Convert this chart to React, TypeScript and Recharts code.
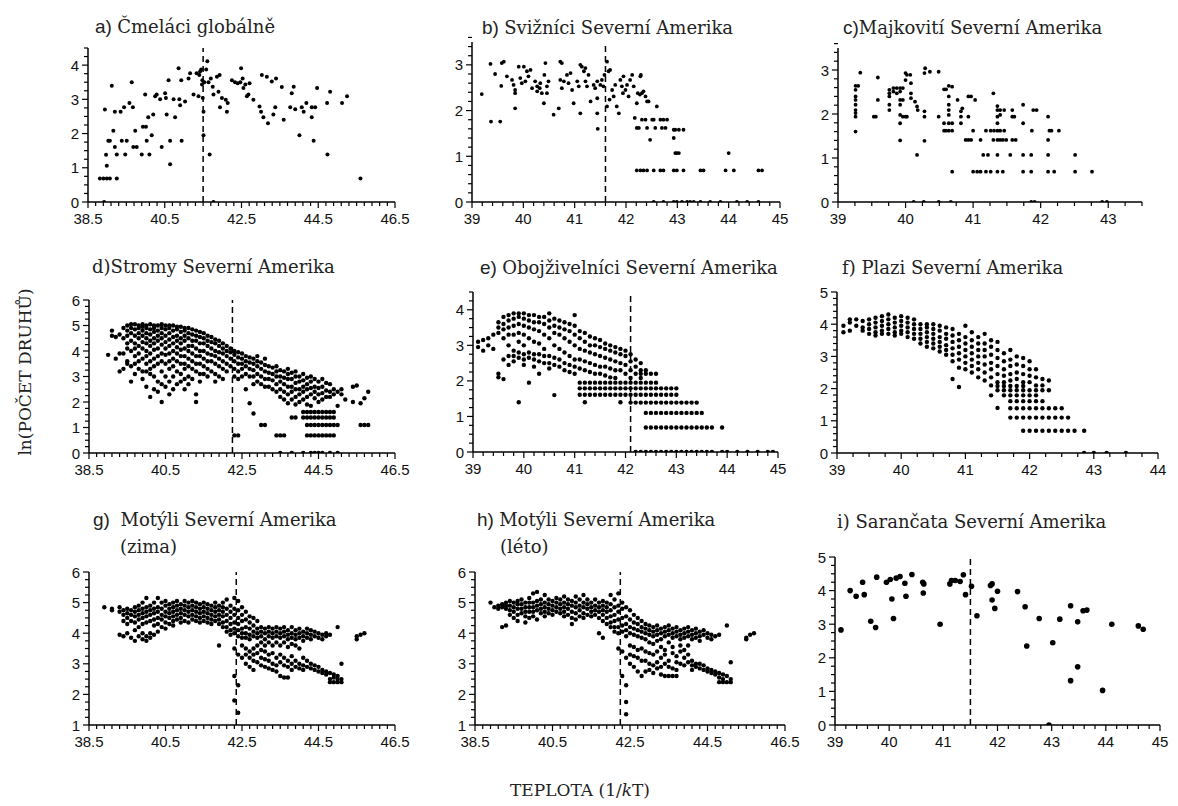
import React from 'react';
import { ScatterChart, Scatter, XAxis, YAxis, ReferenceLine } from 'recharts';

type Pt = [number, number];
type Col = [number, number[]];

// a) bumblebees, global
const bumblebeesGlobal: Pt[] = [
  [38.81, 0.69], [38.9, 0.69], [38.99, 0.69], [39.07, 0.69], [38.94, 2.7], [38.97, 1.38], [38.99, 1.06], [39.03, 1.79],
  [39.07, 1.79], [39.12, 3.4], [39.16, 2.08], [39.2, 2.64], [39.2, 1.61], [39.25, 0.69], [39.25, 1.39], [39.35, 2.64],
  [39.38, 1.79], [39.44, 2.77], [39.47, 1.39], [39.51, 1.79], [39.58, 2.89], [39.64, 3.5], [39.67, 2.77], [39.68, 1.61],
  [39.73, 2.08], [39.77, 1.61], [39.9, 1.39], [39.93, 2.2], [39.99, 3.14], [40.01, 2.2], [40.03, 1.79], [40.07, 2.48],
  [40.1, 1.39], [40.16, 1.95], [40.2, 2.56], [40.25, 3.09], [40.29, 3.14], [40.38, 3.0], [40.42, 1.61], [40.51, 3.18],
  [40.53, 3.04], [40.55, 2.56], [40.6, 3.56], [40.64, 1.79], [40.64, 1.1], [40.73, 3.0], [40.77, 2.48], [40.86, 3.91],
  [40.88, 3.0], [40.9, 2.83], [40.93, 3.56], [40.94, 1.79], [41.03, 2.94], [41.12, 3.61], [41.16, 3.76], [41.25, 3.14],
  [41.33, 3.76], [41.38, 3.09], [41.4, 3.71], [41.42, 3.81], [41.45, 3.87], [41.47, 3.43], [41.48, 3.56], [41.49, 3.04],
  [41.51, 2.64], [41.51, 1.95], [41.53, 3.5], [41.58, 3.87], [41.61, 4.11], [41.64, 3.5], [41.67, 1.39], [41.7, 3.61],
  [41.75, 3.37], [41.77, 3.14], [41.86, 3.66], [41.9, 3.22], [41.93, 3.71], [41.94, 2.77], [41.99, 3.04], [42.09, 2.99],
  [42.12, 2.64], [42.14, 2.89], [42.25, 3.56], [42.33, 3.5], [42.4, 3.47], [42.47, 3.5], [42.49, 3.91], [42.53, 3.61],
  [42.55, 3.33], [42.6, 3.43], [42.64, 3.09], [42.68, 3.14], [42.71, 3.47], [42.81, 2.99], [42.97, 2.79], [43.01, 2.64],
  [43.03, 3.71], [43.07, 2.48], [43.16, 3.66], [43.19, 2.3], [43.29, 3.52], [43.33, 2.56], [43.38, 2.77], [43.4, 3.61],
  [43.55, 3.36], [43.6, 2.4], [43.77, 2.77], [43.81, 3.18], [43.86, 3.37], [43.9, 2.71], [44.01, 1.95], [44.07, 2.77],
  [44.12, 2.64], [44.19, 2.89], [44.33, 2.77], [44.33, 2.48], [44.38, 1.79], [44.42, 2.77], [44.47, 3.33], [44.73, 2.89],
  [44.74, 1.39], [44.81, 3.22], [45.12, 2.89], [45.25, 3.09], [45.6, 0.69], [38.92, 0], [41.77, 0],
];

// b) tiger beetles, North America
const tigerBeetlesNA: Pt[] = [
  [39.19, 2.36], [39.36, 3.02], [39.37, 1.76], [39.45, 2.8], [39.55, 1.76], [39.57, 2.54], [39.58, 3.04], [39.62, 3.07],
  [39.68, 2.75], [39.78, 2.67], [39.81, 2.56], [39.84, 2.45], [39.84, 2.38], [39.84, 2.05], [39.91, 2.96], [39.94, 2.71],
  [39.97, 2.6], [40.01, 2.96], [40.04, 2.64], [40.07, 2.86], [40.1, 2.75], [40.14, 2.89], [40.17, 2.49], [40.23, 2.64],
  [40.27, 2.53], [40.27, 2.42], [40.32, 2.49], [40.33, 2.6], [40.36, 2.38], [40.4, 2.16], [40.41, 2.78], [40.43, 3.04],
  [40.46, 2.53], [40.49, 2.64], [40.46, 2.38], [40.59, 1.91], [40.69, 2.05], [40.72, 3.07], [40.75, 3.04], [40.72, 2.67],
  [40.75, 2.49], [40.79, 2.64], [40.85, 2.78], [40.88, 2.6], [40.92, 2.82], [40.95, 2.45], [40.98, 2.16], [41.05, 2.64],
  [41.08, 2.53], [41.11, 1.94], [41.11, 3.0], [41.14, 2.96], [41.18, 2.86], [41.21, 2.93], [41.21, 2.64], [41.24, 2.53],
  [41.27, 2.78], [41.31, 2.2], [41.37, 2.56], [41.4, 2.49], [41.44, 2.64], [41.44, 2.27], [41.44, 1.94], [41.45, 1.6],
  [41.5, 2.56], [41.53, 2.67], [41.56, 2.53], [41.58, 2.78], [41.63, 3.07], [41.66, 2.86], [41.69, 2.89], [41.63, 2.09],
  [41.68, 2.24], [41.73, 2.45], [41.76, 2.31], [41.79, 2.56], [41.82, 2.09], [41.86, 1.94], [41.89, 2.67], [41.92, 2.53],
  [41.95, 2.75], [41.94, 2.38], [41.99, 2.45], [42.02, 2.56], [42.05, 2.31], [42.08, 2.67], [42.12, 2.78], [42.15, 2.53],
  [42.17, 1.84], [42.21, 2.16], [42.23, 2.38], [42.27, 2.35], [42.28, 2.75], [42.29, 2.78], [42.31, 2.38], [42.34, 2.42],
  [42.38, 2.31], [42.41, 2.2], [42.44, 2.2], [42.21, 1.62], [42.25, 1.62], [42.31, 1.8], [42.38, 1.8], [42.41, 1.62],
  [42.47, 1.36], [42.51, 1.8], [42.54, 1.8], [42.57, 1.62], [42.6, 2.09], [42.67, 1.8], [42.7, 1.62], [42.73, 1.8],
  [42.77, 1.62], [42.8, 1.8], [42.93, 1.58], [42.96, 1.58], [43.03, 1.58], [43.12, 1.58], [42.93, 1.4], [42.96, 1.07],
  [42.99, 1.07], [43.03, 1.07], [42.21, 0.69], [42.28, 0.69], [42.34, 0.69], [42.41, 0.69], [42.54, 0.69], [42.67, 0.69],
  [42.73, 0.69], [42.93, 0.69], [42.99, 0.69], [43.12, 0.69], [43.45, 0.69], [43.51, 0.69], [43.94, 0.69], [44.1, 0.69],
  [44.58, 0.69], [44.65, 0.69], [44.0, 1.07], [42.54, 0], [42.73, 0], [42.93, 0], [42.99, 0], [43.09, 0], [43.19, 0],
  [43.25, 0], [43.32, 0], [43.45, 0], [43.64, 0], [43.84, 0], [44.16, 0], [44.36, 0], [44.58, 0],
];

// c) blister beetles, North America
const blisterBeetlesNA: Pt[] = [
  [39.26, 2.64], [39.26, 2.55], [39.26, 2.4], [39.26, 2.32], [39.26, 2.21], [39.26, 2.09], [39.26, 2.02], [39.26, 1.94],
  [39.26, 1.6], [39.3, 2.64], [39.33, 2.94], [39.53, 1.94], [39.59, 2.83], [39.59, 2.32], [39.56, 1.94], [39.76, 2.55],
  [39.76, 2.47], [39.76, 2.4], [39.76, 2.21], [39.76, 2.09], [39.82, 2.59], [39.82, 2.51], [39.87, 2.59], [39.87, 2.47],
  [39.92, 2.59], [39.92, 2.51], [39.92, 2.32], [39.92, 2.21], [39.92, 1.98], [39.92, 1.79], [39.92, 1.4], [39.96, 2.59],
  [39.96, 2.32], [39.96, 1.94], [40.0, 2.93], [40.0, 2.77], [40.0, 1.94], [40.02, 2.89], [40.02, 1.94], [40.07, 2.89],
  [40.08, 2.7], [40.08, 2.47], [40.08, 2.36], [40.14, 2.28], [40.17, 2.17], [40.17, 1.07], [40.18, 2.09], [40.28, 2.93],
  [40.28, 2.06], [40.28, 1.94], [40.28, 1.39], [40.29, 3.04], [40.36, 2.96], [40.49, 2.96], [40.49, 1.94], [40.57, 2.56],
  [40.57, 1.79], [40.57, 1.62], [40.6, 2.56], [40.6, 1.62], [40.64, 2.64], [40.64, 2.4], [40.64, 2.21], [40.64, 2.09],
  [40.64, 1.98], [40.64, 1.79], [40.64, 1.62], [40.69, 2.62], [40.69, 1.79], [40.69, 1.62], [40.69, 0.69], [40.77, 2.32],
  [40.82, 2.06], [40.82, 1.94], [40.82, 1.79], [40.84, 2.13], [40.89, 1.41], [40.93, 2.4], [40.93, 1.94], [40.93, 1.41],
  [40.97, 2.4], [40.97, 1.41], [41.0, 1.62], [41.0, 0.69], [41.03, 2.32], [41.06, 0.69], [41.11, 1.41], [41.11, 0.69],
  [41.15, 1.07], [41.19, 1.62], [41.19, 0.69], [41.22, 1.07], [41.26, 1.62], [41.26, 0.69], [41.3, 2.47], [41.3, 1.41],
  [41.31, 1.62], [41.36, 2.18], [41.36, 2.09], [41.36, 1.94], [41.36, 1.79], [41.36, 1.62], [41.36, 1.41], [41.36, 1.07],
  [41.36, 0.69], [41.4, 2.09], [41.4, 1.98], [41.4, 1.62], [41.4, 1.41], [41.44, 0.69], [41.44, 1.41], [41.46, 2.09],
  [41.46, 1.62], [41.49, 1.41], [41.55, 1.07], [41.58, 2.09], [41.58, 1.94], [41.58, 1.41], [41.61, 1.94], [41.63, 1.41],
  [41.74, 2.21], [41.74, 1.79], [41.74, 1.07], [41.74, 0.69], [41.86, 1.07], [41.86, 0.69], [41.87, 1.62], [41.89, 2.09],
  [41.94, 2.09], [42.11, 1.94], [42.11, 1.41], [42.11, 1.07], [42.11, 0.69], [42.13, 1.62], [42.16, 1.62], [42.2, 0.69],
  [42.27, 1.62], [42.51, 1.07], [42.51, 0.69], [42.76, 0.69], [40.12, 0], [40.27, 0], [40.49, 0], [40.67, 0],
  [41.86, 0], [41.91, 0], [42.91, 0], [42.98, 0],
];

// d) trees, North America (x, y values in that column)
const treesNA: Col[] = [
  [39.0, [3.85]], [39.1, [4.8, 4.6]], [39.2, [4.55, 3.7]], [39.3, [4.65, 3.2, 3.9]], [39.4, [4.9, 4.5, 3.3, 3.9]],
  [39.5, [5.0, 4.8, 4.6, 4.3, 4.1, 3.6, 3.5]], [39.6, [5.05, 4.9, 4.7, 4.4, 4.0, 3.4, 2.8]],
  [39.7, [5.05, 4.85, 4.6, 4.3, 4.1, 3.8, 3.5, 3.1]], [39.8, [5.0, 4.9, 4.7, 4.5, 4.2, 3.9, 3.6, 3.3]],
  [39.9, [5.05, 4.95, 4.8, 4.6, 4.35, 4.1, 3.7, 3.2, 2.9]], [40.0, [5.0, 4.9, 4.7, 4.5, 4.3, 4.0, 3.8, 3.5, 3.2, 2.6]],
  [40.1, [5.05, 4.85, 4.65, 4.4, 4.2, 3.9, 3.6, 3.3, 3.1, 2.2]], [40.2, [5.0, 4.9, 4.75, 4.5, 4.3, 4.05, 3.7, 3.4, 3.0, 2.5]],
  [40.3, [5.0, 4.8, 4.6, 4.4, 4.1, 3.8, 3.5, 2.8, 2.4]], [40.4, [5.05, 4.9, 4.7, 4.5, 4.25, 3.9, 3.6, 3.2, 2.7, 2.0]],
  [40.5, [5.0, 4.85, 4.6, 4.35, 4.1, 3.85, 3.5, 3.0, 2.6]], [40.6, [5.0, 4.9, 4.7, 4.45, 4.2, 3.9, 3.6, 3.3, 2.8, 2.3]],
  [40.7, [5.0, 4.8, 4.55, 4.3, 4.0, 3.7, 3.4, 3.0, 2.5]], [40.8, [4.95, 4.85, 4.6, 4.4, 4.15, 3.9, 3.6, 3.2, 2.7]],
  [40.9, [4.95, 4.75, 4.5, 4.3, 4.05, 3.8, 3.5, 3.1, 2.8]], [41.0, [4.9, 4.8, 4.6, 4.4, 4.1, 3.8, 3.5, 3.3, 2.9, 2.5]],
  [41.1, [4.9, 4.7, 4.5, 4.2, 4.0, 3.7, 3.4, 3.0, 2.7]], [41.2, [4.85, 4.65, 4.4, 4.2, 3.9, 3.6, 3.3, 2.9]],
  [41.3, [4.8, 4.6, 4.4, 4.1, 3.8, 3.5, 3.2, 2.3, 2.0]], [41.4, [4.75, 4.55, 4.3, 4.0, 3.8, 3.5, 3.1, 2.8]],
  [41.5, [4.7, 4.5, 4.3, 4.0, 3.7, 3.4, 3.1]], [41.6, [4.6, 4.4, 4.2, 3.9, 3.6, 3.3, 3.0]],
  [41.7, [4.55, 4.35, 4.1, 3.85, 3.6, 3.2]], [41.8, [4.45, 4.3, 4.0, 3.8, 3.5, 3.1, 2.8]],
  [41.9, [4.4, 4.2, 3.95, 3.7, 3.4, 3.0]], [42.0, [4.3, 4.1, 3.9, 3.6, 3.3, 2.9]], [42.1, [4.2, 4.0, 3.8, 3.5, 3.2]],
  [42.2, [4.1, 3.95, 3.7, 3.4]], [42.3, [4.0, 3.85, 3.6, 3.3, 3.0, 0.69]], [42.4, [3.95, 3.75, 3.5, 3.2, 2.9, 0.69]],
  [42.5, [3.9, 3.7, 3.5, 3.3, 3.0]], [42.6, [3.8, 3.6, 3.4, 3.1, 2.5]], [42.7, [3.75, 3.55, 3.3, 3.0, 1.95]],
  [42.8, [3.7, 3.5, 3.25, 3.0, 2.7, 1.55]], [42.9, [3.8, 3.6, 3.4, 3.1, 2.8]], [43.0, [3.55, 3.3, 3.0, 2.7, 1.1]],
  [43.1, [3.7, 3.45, 3.2, 2.9, 2.6, 1.1]], [43.2, [3.4, 3.15, 2.9, 2.6]], [43.3, [3.35, 3.1, 2.85, 2.5]],
  [43.4, [3.4, 3.2, 3.0, 2.7, 2.4, 0.69]], [43.5, [3.25, 3.0, 2.8, 2.5, 2.2, 0.69, 0]], [43.6, [3.2, 2.95, 2.7, 2.4, 2.1, 0.69]],
  [43.7, [3.3, 3.1, 2.9, 2.6, 2.3, 1.95]], [43.8, [3.15, 2.9, 2.6, 2.4, 2.1, 1.39, 0]],
  [43.9, [3.2, 3.0, 2.75, 2.5, 2.2, 1.9, 1.39]], [44.0, [3.0, 2.8, 2.5, 2.3, 2.0]],
  [44.1, [3.1, 2.85, 2.6, 2.4, 2.1, 1.61, 1.39, 0]], [44.2, [2.95, 2.7, 2.5, 2.2, 1.9, 1.61, 1.39, 1.1, 0.69]],
  [44.3, [3.0, 2.8, 2.55, 2.3, 1.85, 1.61, 1.39, 1.1, 0.69, 0]], [44.4, [2.9, 2.6, 2.4, 2.15, 1.61, 1.39, 1.1, 0.69, 0]],
  [44.5, [2.8, 2.55, 2.3, 2.0, 1.61, 1.39, 1.1, 0.69, 0]], [44.6, [2.9, 2.6, 2.35, 2.1, 1.61, 1.39, 1.1, 0.69, 0]],
  [44.7, [2.75, 2.45, 2.2, 1.61, 1.39, 1.1, 0.69]], [44.8, [2.7, 2.4, 2.2, 1.61, 1.39, 1.1, 0.69, 0]],
  [44.9, [2.5, 2.3, 1.61, 1.39, 1.1, 0.69]], [45.0, [2.4, 1.85, 1.1, 0]], [45.1, [2.5, 2.3]], [45.2, [2.1]],
  [45.4, [2.6, 2.0]], [45.5, [2.65]], [45.6, [1.95, 1.1]], [45.7, [2.15, 1.1]], [45.8, [2.4, 1.1]],
];

// e) amphibians, North America
const amphibiansNA: Col[] = [
  [39.1, [3.1, 2.95]], [39.2, [3.15, 2.85]], [39.3, [3.2, 3.0]], [39.4, [3.3, 2.9]],
  [39.5, [3.65, 3.5, 3.35, 2.2, 2.1]], [39.6, [3.8, 3.6, 3.45, 3.2, 2.6, 2.05]],
  [39.7, [3.85, 3.7, 3.5, 3.3, 3.0, 2.7, 2.45]], [39.8, [3.9, 3.75, 3.55, 3.3, 2.85, 2.7, 2.55]],
  [39.9, [3.9, 3.8, 3.6, 3.35, 3.1, 2.8, 2.65, 1.4]], [40.0, [3.9, 3.75, 3.55, 3.3, 3.0, 2.75, 2.6, 2.45]],
  [40.1, [3.85, 3.7, 3.5, 3.2, 2.8, 2.65, 1.95]], [40.2, [3.85, 3.65, 3.45, 3.1, 2.75, 2.6, 2.4]],
  [40.3, [3.8, 3.65, 3.4, 3.05, 2.75, 2.55, 2.2]], [40.4, [3.8, 3.6, 3.3, 2.9, 2.7, 2.5]],
  [40.5, [3.9, 3.7, 3.5, 3.2, 2.7, 2.5, 2.35]], [40.6, [3.75, 3.55, 3.35, 3.0, 2.65, 2.45, 1.6]],
  [40.7, [3.7, 3.5, 3.3, 2.9, 2.6, 2.4]], [40.8, [3.65, 3.45, 3.2, 2.8, 2.5, 2.3]],
  [40.9, [3.6, 3.4, 3.1, 2.7, 2.45, 2.25]], [41.0, [3.85, 3.55, 3.3, 3.0, 2.6, 2.4, 2.2]],
  [41.1, [3.4, 3.2, 2.9, 2.6, 2.35, 1.95, 1.79, 1.61]], [41.2, [3.35, 3.1, 2.85, 2.55, 2.3, 1.95, 1.79, 1.61, 1.4]],
  [41.3, [3.25, 3.0, 2.8, 2.5, 2.25, 1.95, 1.79, 1.61]], [41.4, [3.2, 3.0, 2.75, 2.45, 2.2, 1.95, 1.79, 1.61]],
  [41.5, [3.15, 2.95, 2.7, 2.4, 2.2, 1.95, 1.79, 1.61]], [41.6, [3.05, 2.9, 2.65, 2.4, 2.15, 1.95, 1.79, 1.61]],
  [41.7, [3.0, 2.85, 2.6, 2.35, 2.1, 1.95, 1.79, 1.61]], [41.8, [2.95, 2.8, 2.55, 2.3, 2.08, 1.95, 1.79, 1.61]],
  [41.9, [2.9, 2.75, 2.5, 2.3, 1.95, 1.79, 1.61, 1.4]], [42.0, [2.85, 2.7, 2.45, 2.2, 1.95, 1.79, 1.61]],
  [42.1, [2.75, 2.55, 2.3, 2.08, 1.95, 1.79, 1.61, 1.39]], [42.2, [2.6, 2.4, 2.2, 1.95, 1.79, 1.61, 1.39, 0]],
  [42.3, [2.5, 2.3, 2.2, 2.08, 1.95, 1.79, 1.61, 1.39, 0]], [42.4, [2.3, 2.2, 1.95, 1.79, 1.61, 1.39, 1.1, 0.69, 0]],
  [42.5, [2.2, 1.95, 1.79, 1.61, 1.39, 1.1, 0.69, 0]], [42.6, [2.2, 1.95, 1.79, 1.61, 1.39, 1.1, 0.69, 0]],
  [42.7, [1.79, 1.61, 1.39, 1.1, 0.69, 0]], [42.8, [1.79, 1.61, 1.39, 1.1, 0.69, 0]],
  [42.9, [1.79, 1.61, 1.39, 1.1, 0.69, 0]], [43.0, [1.79, 1.61, 1.39, 1.1, 0.69, 0]],
  [43.1, [1.39, 1.1, 0.69, 0]], [43.2, [1.39, 1.1, 0.69, 0]], [43.3, [1.39, 1.1, 0.69, 0]], [43.4, [1.39, 1.1, 0.69, 0]],
  [43.5, [1.1, 0.69, 0]], [43.6, [0.69, 0]], [43.7, [0.69, 0]], [43.9, [0.69, 0]], [44.0, [0]], [44.2, [0]],
  [44.4, [0]], [44.6, [0]], [44.8, [0]], [44.9, [0]],
];

// f) reptiles, North America
const reptilesNA: Col[] = [
  [39.1, [3.75, 3.95]], [39.2, [4.05, 3.8, 4.15]], [39.3, [4.15, 3.95]], [39.4, [4.1, 3.9, 3.8]],
  [39.5, [4.15, 4.0, 3.85, 3.7]], [39.6, [4.2, 4.05, 3.9, 3.75, 3.65]], [39.7, [4.25, 4.1, 3.95, 3.8, 3.7]],
  [39.8, [4.3, 4.15, 4.0, 3.85, 3.7]], [39.9, [4.2, 4.05, 3.9, 3.75, 3.65]], [40.0, [4.25, 4.1, 3.95, 3.8, 3.7]],
  [40.1, [4.2, 4.05, 3.9, 3.75, 3.6]], [40.2, [4.15, 4.0, 3.85, 3.7, 3.55]], [40.3, [4.0, 3.85, 3.7, 3.55, 3.4]],
  [40.4, [4.0, 3.9, 3.75, 3.6, 3.45, 3.3]], [40.5, [4.0, 3.85, 3.7, 3.55, 3.4, 3.25]],
  [40.6, [3.95, 3.8, 3.6, 3.45, 3.3, 3.15]], [40.7, [3.9, 3.7, 3.55, 3.35, 3.2, 3.05]],
  [40.8, [3.85, 3.65, 3.45, 3.25, 3.05, 2.85, 2.3]], [40.9, [3.7, 3.5, 3.3, 3.1, 2.9, 2.65, 2.05]],
  [41.0, [3.95, 3.6, 3.4, 3.2, 3.0, 2.8, 2.6]], [41.1, [3.75, 3.5, 3.3, 3.1, 2.9, 2.7, 2.5]],
  [41.2, [3.6, 3.4, 3.2, 3.0, 2.8, 2.6, 2.35]], [41.3, [3.7, 3.4, 3.2, 3.0, 2.75, 2.5, 2.25]],
  [41.4, [3.5, 3.3, 3.05, 2.8, 2.6, 2.35, 2.1, 1.79]], [41.5, [3.45, 3.2, 2.95, 2.7, 2.45, 2.2, 2.08, 1.95, 1.4]],
  [41.6, [3.1, 2.85, 2.6, 2.4, 2.2, 2.08, 1.95, 1.79]],
  [41.7, [3.2, 2.9, 2.7, 2.45, 2.25, 2.08, 1.95, 1.79, 1.61, 1.39, 1.1]],
  [41.8, [3.0, 2.75, 2.5, 2.3, 2.08, 1.95, 1.79, 1.61, 1.39, 1.1]],
  [41.9, [2.95, 2.7, 2.45, 2.2, 2.08, 1.95, 1.79, 1.61, 1.39, 1.1, 0.69]],
  [42.0, [2.85, 2.6, 2.4, 2.2, 1.95, 1.79, 1.61, 1.39, 1.1, 0.69]],
  [42.1, [2.6, 2.35, 2.1, 1.95, 1.79, 1.61, 1.39, 1.1, 0.69]], [42.2, [2.3, 2.1, 1.95, 1.61, 1.39, 1.1, 0.69]],
  [42.3, [2.25, 1.95, 1.39, 1.1, 0.69]], [42.4, [1.39, 1.1, 0.69]], [42.5, [1.39, 1.1, 0.69]], [42.6, [1.1, 0.69]],
  [42.7, [0.69]], [42.85, [0.69, 0]], [43.0, [0]], [43.2, [0]], [43.5, [0]],
];

// g) butterflies, North America (winter)
const butterfliesWinterNA: Col[] = [
  [38.9, [4.85]], [39.1, [4.8, 4.75]], [39.3, [4.85, 4.7, 3.95]], [39.4, [4.75, 4.6, 4.4, 3.9]],
  [39.5, [4.8, 4.65, 4.5, 4.3, 4.0]], [39.6, [4.75, 4.6, 4.4, 3.85]], [39.7, [4.85, 4.7, 4.55, 4.35, 4.1, 3.75]],
  [39.8, [4.9, 4.75, 4.6, 4.45, 4.2, 3.9]], [39.9, [5.0, 4.8, 4.65, 4.5, 4.3, 4.0, 3.8]],
  [40.0, [5.15, 4.85, 4.7, 4.55, 4.35, 3.9, 3.75]], [40.1, [4.9, 4.75, 4.6, 4.4, 4.0, 3.85]],
  [40.2, [5.0, 4.8, 4.65, 4.45, 4.25, 3.95]], [40.3, [5.15, 4.85, 4.7, 4.5, 4.3, 4.05]],
  [40.4, [5.0, 4.8, 4.6, 4.45, 4.2]], [40.5, [5.05, 4.9, 4.7, 4.55, 4.35, 4.15]], [40.6, [4.95, 4.8, 4.65, 4.5, 4.3]],
  [40.7, [5.0, 4.85, 4.7, 4.55, 4.4, 4.25]], [40.8, [5.05, 4.9, 4.75, 4.6, 4.45]], [40.9, [4.95, 4.8, 4.65, 4.5, 4.35]],
  [41.0, [5.05, 4.9, 4.75, 4.6, 4.4]], [41.1, [5.0, 4.85, 4.7, 4.55, 4.35]], [41.2, [5.05, 4.9, 4.75, 4.6, 4.45]],
  [41.3, [5.0, 4.85, 4.7, 4.55, 4.4]], [41.4, [4.95, 4.8, 4.65, 4.5, 4.35]], [41.5, [5.0, 4.85, 4.7, 4.55, 4.4]],
  [41.6, [4.95, 4.8, 4.65, 4.5, 4.35]], [41.7, [4.9, 4.75, 4.6, 4.45, 4.3]], [41.8, [5.0, 4.85, 4.7, 4.55, 4.4]],
  [41.9, [4.9, 4.75, 4.6, 4.45, 4.3, 3.6]], [42.0, [5.0, 4.85, 4.7, 4.55, 4.35, 4.2]],
  [42.1, [5.1, 4.8, 4.6, 4.4, 4.2, 4.05]], [42.2, [4.9, 4.7, 4.5, 4.3, 4.1, 3.95]],
  [42.3, [5.15, 4.8, 4.6, 4.35, 4.15, 4.0, 3.5, 2.6, 1.8]], [42.4, [5.05, 4.75, 4.5, 4.3, 4.1, 3.9, 3.3, 2.3, 1.4]],
  [42.5, [4.85, 4.6, 4.4, 4.15, 4.0, 3.85, 3.6, 3.2]], [42.6, [4.7, 4.45, 4.2, 4.0, 3.85, 3.5, 3.3, 3.0]],
  [42.7, [4.55, 4.35, 4.15, 3.95, 3.8, 3.4, 3.2, 2.9]], [42.8, [4.5, 4.25, 4.05, 3.9, 3.5, 3.3, 3.1, 2.8]],
  [42.9, [4.4, 4.15, 4.0, 3.85, 3.6, 3.35, 3.05]], [43.0, [4.2, 4.05, 3.9, 3.7, 3.45, 3.2, 2.95]],
  [43.1, [4.15, 4.0, 3.8, 3.6, 3.4, 3.15, 2.9]], [43.2, [4.2, 4.05, 3.9, 3.7, 3.3, 3.1, 2.85]],
  [43.3, [4.15, 4.0, 3.85, 3.6, 3.35, 3.0, 2.8]], [43.4, [4.2, 4.05, 3.9, 3.7, 3.2, 2.95, 2.75]],
  [43.5, [4.15, 4.0, 3.85, 3.6, 3.3, 3.05, 2.6]], [43.6, [4.2, 4.05, 3.9, 3.7, 3.2, 2.95, 2.55]],
  [43.7, [4.1, 3.95, 3.8, 3.55, 3.1, 2.9, 2.55]], [43.8, [4.2, 4.0, 3.85, 3.65, 3.25, 3.0, 2.8]],
  [43.9, [4.1, 3.95, 3.8, 3.6, 3.1, 2.9]], [44.0, [4.15, 4.0, 3.85, 3.5, 3.0, 2.85]],
  [44.1, [4.05, 3.9, 3.75, 3.2, 2.95, 2.8]], [44.2, [4.15, 4.0, 3.85, 3.1, 2.9]], [44.3, [4.1, 3.95, 3.8, 3.0, 2.85]],
  [44.4, [4.05, 3.9, 2.95, 2.8]], [44.5, [4.0, 3.85, 2.9, 2.75]], [44.6, [3.95, 3.8, 2.8, 2.7]],
  [44.7, [4.0, 3.9, 2.75, 2.65]], [44.8, [3.95, 2.7, 2.5, 2.4]], [44.9, [2.65, 2.55, 2.4]],
  [45.0, [4.2, 2.6, 2.5, 2.4]], [45.1, [3.0, 2.5, 2.4]], [45.5, [3.9, 3.8]], [45.6, [3.95]], [45.7, [4.0]],
];

// h) butterflies, North America (summer)
const butterfliesSummerNA: Col[] = [
  [38.9, [5.0]], [39.0, [4.85]], [39.1, [4.9, 4.8]], [39.2, [4.95, 4.85, 4.2]], [39.3, [5.0, 4.9, 4.8, 4.25]],
  [39.4, [5.05, 4.9, 4.75, 4.6]], [39.5, [5.0, 4.85, 4.7, 4.5]], [39.6, [5.05, 4.95, 4.8, 4.6, 4.4]],
  [39.7, [5.1, 4.95, 4.8, 4.65]], [39.8, [5.0, 4.85, 4.7, 4.55, 4.35]], [39.9, [5.15, 5.0, 4.85, 4.7, 4.5]],
  [40.0, [5.3, 5.0, 4.85, 4.7, 4.55]], [40.1, [5.35, 5.05, 4.9, 4.75, 4.45]], [40.2, [5.1, 4.95, 4.8, 4.65]],
  [40.3, [5.25, 5.0, 4.85, 4.7, 4.55]], [40.4, [5.1, 4.95, 4.8, 4.65]], [40.5, [5.05, 4.9, 4.75, 4.6]],
  [40.6, [5.15, 5.0, 4.85, 4.7]], [40.7, [5.1, 4.95, 4.8, 4.65]], [40.8, [5.2, 5.0, 4.85, 4.7, 4.55]],
  [40.9, [5.1, 4.95, 4.8, 4.6]], [41.0, [5.05, 4.9, 4.7, 4.5, 4.3]], [41.1, [5.2, 5.0, 4.85, 4.65, 4.45]],
  [41.2, [5.1, 4.9, 4.75, 4.55]], [41.3, [5.25, 5.0, 4.85, 4.65, 4.5]], [41.4, [5.1, 4.95, 4.8, 4.6]],
  [41.5, [5.0, 4.85, 4.7, 4.55]], [41.6, [5.1, 4.9, 4.75, 4.6]], [41.7, [5.0, 4.85, 4.7, 4.5, 4.0]],
  [41.8, [5.05, 4.9, 4.75, 4.6, 4.4, 3.85]], [41.9, [5.0, 4.85, 4.7, 4.5, 4.3]],
  [42.0, [5.25, 4.95, 4.75, 4.55, 4.35, 4.2]], [42.1, [5.1, 4.85, 4.6, 4.4, 4.2, 4.05]],
  [42.2, [5.3, 4.9, 4.7, 4.45, 4.2, 4.0, 3.5]], [42.3, [5.0, 4.8, 4.5, 4.25, 4.05, 3.4, 2.6]],
  [42.4, [4.85, 4.55, 4.3, 4.1, 3.9, 3.2, 2.3, 1.75, 1.35]], [42.5, [4.75, 4.45, 4.2, 4.0, 3.6, 3.3, 3.0]],
  [42.6, [4.6, 4.35, 4.15, 3.95, 3.55, 3.25, 2.9]], [42.7, [4.5, 4.3, 4.1, 3.9, 3.45, 3.2, 2.75]],
  [42.8, [4.4, 4.2, 4.05, 3.85, 3.5, 3.1, 2.6]], [42.9, [4.3, 4.15, 4.0, 3.8, 3.4, 3.1, 2.75]],
  [43.0, [4.25, 4.1, 3.95, 3.7, 3.35, 3.0, 2.8]], [43.1, [4.2, 4.05, 3.9, 3.65, 3.3, 2.95, 2.7]],
  [43.2, [4.25, 4.1, 3.95, 3.75, 3.4, 3.05, 2.85]], [43.3, [4.15, 4.0, 3.8, 3.55, 3.2, 2.9, 2.65]],
  [43.4, [4.2, 4.05, 3.9, 3.45, 3.3, 3.0, 2.6]], [43.5, [4.25, 4.1, 3.95, 3.7, 3.1, 2.9, 2.6]],
  [43.6, [4.15, 4.0, 3.85, 3.55, 3.35, 2.85, 2.6]], [43.7, [4.2, 4.05, 3.9, 3.25, 3.05, 2.8, 2.6]],
  [43.8, [4.1, 3.95, 3.8, 3.6, 3.4, 3.0]], [43.9, [4.15, 4.0, 3.85, 3.45, 3.2, 2.95]],
  [44.0, [4.2, 4.05, 3.9, 3.6, 3.3, 3.05]], [44.1, [4.1, 3.95, 3.8, 3.1, 2.95, 2.8]],
  [44.2, [4.15, 4.0, 3.85, 3.0, 2.9]], [44.3, [4.05, 3.9, 3.75, 3.0, 2.85]], [44.4, [4.1, 3.95, 2.95, 2.8]],
  [44.5, [4.0, 3.85, 2.85, 2.75]], [44.6, [3.95, 3.8, 2.8, 2.7]], [44.7, [3.9, 2.75, 2.65]],
  [44.8, [3.95, 2.7, 2.55, 2.4]], [44.9, [2.65, 2.5, 2.4]], [45.0, [4.25, 2.6, 2.4]], [45.1, [3.05, 2.5, 2.4]],
  [45.5, [3.85, 3.8]], [45.6, [3.95]], [45.7, [4.0]],
];

// i) grasshoppers, North America
const grasshoppersNA: Pt[] = [
  [39.11, 2.83], [39.28, 4.0], [39.39, 3.83], [39.51, 4.25], [39.54, 3.88], [39.66, 3.09], [39.75, 2.9], [39.77, 4.4],
  [39.95, 4.25], [40.02, 4.33], [40.05, 3.75], [40.08, 3.17], [40.13, 4.37], [40.2, 4.42], [40.29, 4.22], [40.31, 3.83],
  [40.42, 4.48], [40.62, 4.25], [40.64, 4.2], [40.63, 3.93], [40.94, 3.0], [41.12, 4.2], [41.15, 4.3], [41.22, 4.3],
  [41.31, 4.27], [41.37, 4.47], [41.41, 3.88], [41.52, 4.13], [41.62, 3.25], [41.87, 4.15], [41.9, 4.2], [41.9, 3.72],
  [41.95, 3.47], [42.0, 3.98], [42.37, 3.97], [42.51, 3.52], [42.54, 2.35], [42.77, 3.17], [43.02, 2.45], [43.15, 3.15],
  [43.35, 3.55], [43.35, 1.32], [43.48, 3.07], [43.48, 1.73], [43.58, 3.4], [43.65, 3.42], [43.94, 1.03], [44.11, 3.0],
  [44.6, 2.95], [44.69, 2.85], [42.95, 0],
];

const ticksWide = [38.5, 40.5, 42.5, 44.5, 46.5];
const ticks39to45 = [39, 40, 41, 42, 43, 44, 45];
const ticks39to43 = [39, 40, 41, 42, 43];
const ticks39to44 = [39, 40, 41, 42, 43, 44];

const fromCols = (cols: Col[]): Pt[] => cols.flatMap(([x, ys]) => ys.map((y) => [x, y] as Pt));

const PAD_L = 45;
const PAD_R = 20;
const PAD_T = 12;
const PAD_B = 34;
const SANS = '"Liberation Sans", Arial, sans-serif';
const SERIF = '"DejaVu Serif", serif';

function stepTicks(domain: number[], step: number) {
  const out: number[] = [];
  const n = Math.round((domain[1] - domain[0]) / step);
  for (let i = 0; i <= n; i++) out.push(Math.round((domain[0] + i * step) * 1000) / 1000);
  return out;
}

const isMajor = (v: number, majors: number[]) => majors.some((m) => Math.abs(m - v) < 1e-6);

const panels = [
  { id: 'a', L: 88, R: 395, T: 48, B: 202, xd: [38.5, 46.5], yd: [0, 4.5], xm: ticksWide, xs: 0.2, ym: [0, 1, 2, 3, 4], ys: 0.25, dash: 41.5, r: 2, pts: bumblebeesGlobal },
  { id: 'b', L: 472, R: 780, T: 42, B: 202, xd: [39, 45], yd: [0, 3.5], xm: ticks39to45, xs: 0.2, ym: [0, 1, 2, 3], ys: 0.2, dash: 41.6, r: 1.9, pts: tigerBeetlesNA },
  { id: 'c', L: 838, R: 1142, T: 48, B: 202, xd: [39, 43.5], yd: [0, 3.5], xm: ticks39to43, xs: 0.25, ym: [0, 1, 2, 3], ys: 0.2, dash: null, r: 1.9, pts: blisterBeetlesNA },
  { id: 'd', L: 89, R: 395, T: 300, B: 453, xd: [38.5, 46.5], yd: [0, 6], xm: ticksWide, xs: 0.2, ym: [0, 1, 2, 3, 4, 5, 6], ys: 0.25, dash: 42.25, r: 2.2, pts: fromCols(treesNA) },
  { id: 'e', L: 473, R: 778, T: 292, B: 452, xd: [39, 45], yd: [0, 4.5], xm: ticks39to45, xs: 0.2, ym: [0, 1, 2, 3, 4], ys: 0.25, dash: 42.1, r: 2.2, pts: fromCols(amphibiansNA) },
  { id: 'f', L: 837, R: 1158, T: 292, B: 453, xd: [39, 44], yd: [0, 5], xm: ticks39to44, xs: 0.25, ym: [0, 1, 2, 3, 4, 5], ys: 0.2, dash: null, r: 2.2, pts: fromCols(reptilesNA) },
  { id: 'g', L: 89, R: 395, T: 572, B: 725, xd: [38.5, 46.5], yd: [1, 6], xm: ticksWide, xs: 0.2, ym: [1, 2, 3, 4, 5, 6], ys: 0.25, dash: 42.35, r: 2.2, pts: fromCols(butterfliesWinterNA) },
  { id: 'h', L: 475, R: 785, T: 572, B: 725, xd: [38.5, 46.5], yd: [1, 6], xm: ticksWide, xs: 0.2, ym: [1, 2, 3, 4, 5, 6], ys: 0.25, dash: 42.25, r: 2.2, pts: fromCols(butterfliesSummerNA) },
  { id: 'i', L: 835, R: 1160, T: 557, B: 725, xd: [39, 45], yd: [0, 5], xm: ticks39to45, xs: 0.2, ym: [0, 1, 2, 3, 4, 5], ys: 0.25, dash: 41.5, r: 2.8, pts: grasshoppersNA },
];

const titles = [
  { left: 95, cy: 27, tag: 'a) ', text: 'Čmeláci globálně' },
  { left: 482, cy: 28, tag: 'b) ', text: 'Svižníci Severní Amerika' },
  { left: 843, cy: 28, tag: 'c)', text: 'Majkovití Severní Amerika' },
  { left: 92, cy: 267, tag: '', text: 'd)Stromy Severní Amerika' },
  { left: 480, cy: 268, tag: 'e) ', text: 'Obojživelníci Severní Amerika' },
  { left: 842, cy: 268, tag: '', text: 'f) Plazi Severní Amerika' },
  { left: 93, cy: 520, tag: 'g)  ', text: 'Motýli Severní Amerika' },
  { left: 120, cy: 547, tag: '', text: '(zima)' },
  { left: 477, cy: 520, tag: 'h) ', text: 'Motýli Severní Amerika' },
  { left: 500, cy: 547, tag: '', text: '(léto)' },
  { left: 837, cy: 522, tag: '', text: 'i) Sarančata Severní Amerika' },
];

function Panel({ p }: { p: (typeof panels)[number] }) {
  const w = p.R - p.L;
  const h = p.B - p.T;
  const data = p.pts.map(([x, y]) => ({ x, y }));
  const xTicks = stepTicks(p.xd, p.xs);
  const yTicks = stepTicks(p.yd, p.ys);

  const xTick = (t: any) => {
    const major = isMajor(t.payload.value, p.xm);
    return (
      <g>
        <line x1={t.x} x2={t.x} y1={t.y} y2={t.y + (major ? 6 : 4)} stroke="#000" strokeWidth={1.2} />
        {major && (
          <text x={t.x} y={t.y + 22} textAnchor="middle" fontFamily={SANS} fontSize={15} fill="#111">
            {String(t.payload.value)}
          </text>
        )}
      </g>
    );
  };
  const yTick = (t: any) => {
    const major = isMajor(t.payload.value, p.ym);
    return (
      <g>
        <line x1={t.x - (major ? 6 : 4)} x2={t.x} y1={t.y} y2={t.y} stroke="#000" strokeWidth={1.2} />
        {major && (
          <text x={t.x - 9} y={t.y + 5.5} textAnchor="end" fontFamily={SANS} fontSize={15} fill="#111">
            {String(t.payload.value)}
          </text>
        )}
      </g>
    );
  };

  return (
    <div style={{ position: 'absolute', left: p.L - PAD_L, top: p.T - PAD_T }}>
      <ScatterChart
        width={w + PAD_L + PAD_R}
        height={h + PAD_T + PAD_B}
        margin={{ top: PAD_T, right: PAD_R, bottom: 0, left: 0 }}
      >
        <XAxis
          type="number"
          dataKey="x"
          domain={p.xd}
          ticks={xTicks}
          interval={0}
          tickSize={0}
          tickMargin={0}
          tickLine={false}
          height={PAD_B}
          axisLine={{ stroke: '#000', strokeWidth: 1.5 }}
          tick={xTick}
          allowDataOverflow
        />
        <YAxis
          type="number"
          dataKey="y"
          domain={p.yd}
          ticks={yTicks}
          interval={0}
          tickSize={0}
          tickMargin={0}
          tickLine={false}
          width={PAD_L}
          axisLine={{ stroke: '#000', strokeWidth: 1.5 }}
          tick={yTick}
          allowDataOverflow
        />
        {p.dash != null && (
          <ReferenceLine x={p.dash} stroke="#000" strokeWidth={1.5} strokeDasharray="6 4" />
        )}
        <Scatter
          data={data}
          isAnimationActive={false}
          shape={(s: any) => <circle cx={s.cx} cy={s.cy} r={p.r} fill="#000" />}
        />
      </ScatterChart>
    </div>
  );
}

export default function App() {
  return (
    <div
      style={{
        position: 'absolute',
        left: 0,
        top: 0,
        width: 1178,
        height: 806,
        background: '#fff',
        overflow: 'hidden',
      }}
    >
      {panels.map((p) => (
        <Panel key={p.id} p={p} />
      ))}
      {titles.map((t, i) => (
        <div
          key={i}
          style={{
            position: 'absolute',
            left: t.left,
            top: t.cy - 11,
            lineHeight: '22px',
            fontSize: 18,
            fontFamily: SERIF,
            color: '#222',
            whiteSpace: 'pre',
          }}
        >
          {t.tag && <span style={{ fontFamily: SANS, fontSize: 19 }}>{t.tag}</span>}
          {t.text}
        </div>
      ))}
      <div
        style={{
          position: 'absolute',
          left: 25 - 100,
          top: 372 - 11,
          width: 200,
          lineHeight: '22px',
          textAlign: 'center',
          transform: 'rotate(-90deg)',
          fontSize: 17,
          fontFamily: SERIF,
          color: '#222',
          whiteSpace: 'nowrap',
        }}
      >
        ln(POČET DRUHŮ)
      </div>
      <div
        style={{
          position: 'absolute',
          left: 580 - 100,
          top: 790 - 11,
          width: 200,
          lineHeight: '22px',
          textAlign: 'center',
          fontSize: 17,
          fontFamily: SERIF,
          color: '#222',
          whiteSpace: 'nowrap',
        }}
      >
        TEPLOTA (1/<i>k</i>T)
      </div>
    </div>
  );
}
